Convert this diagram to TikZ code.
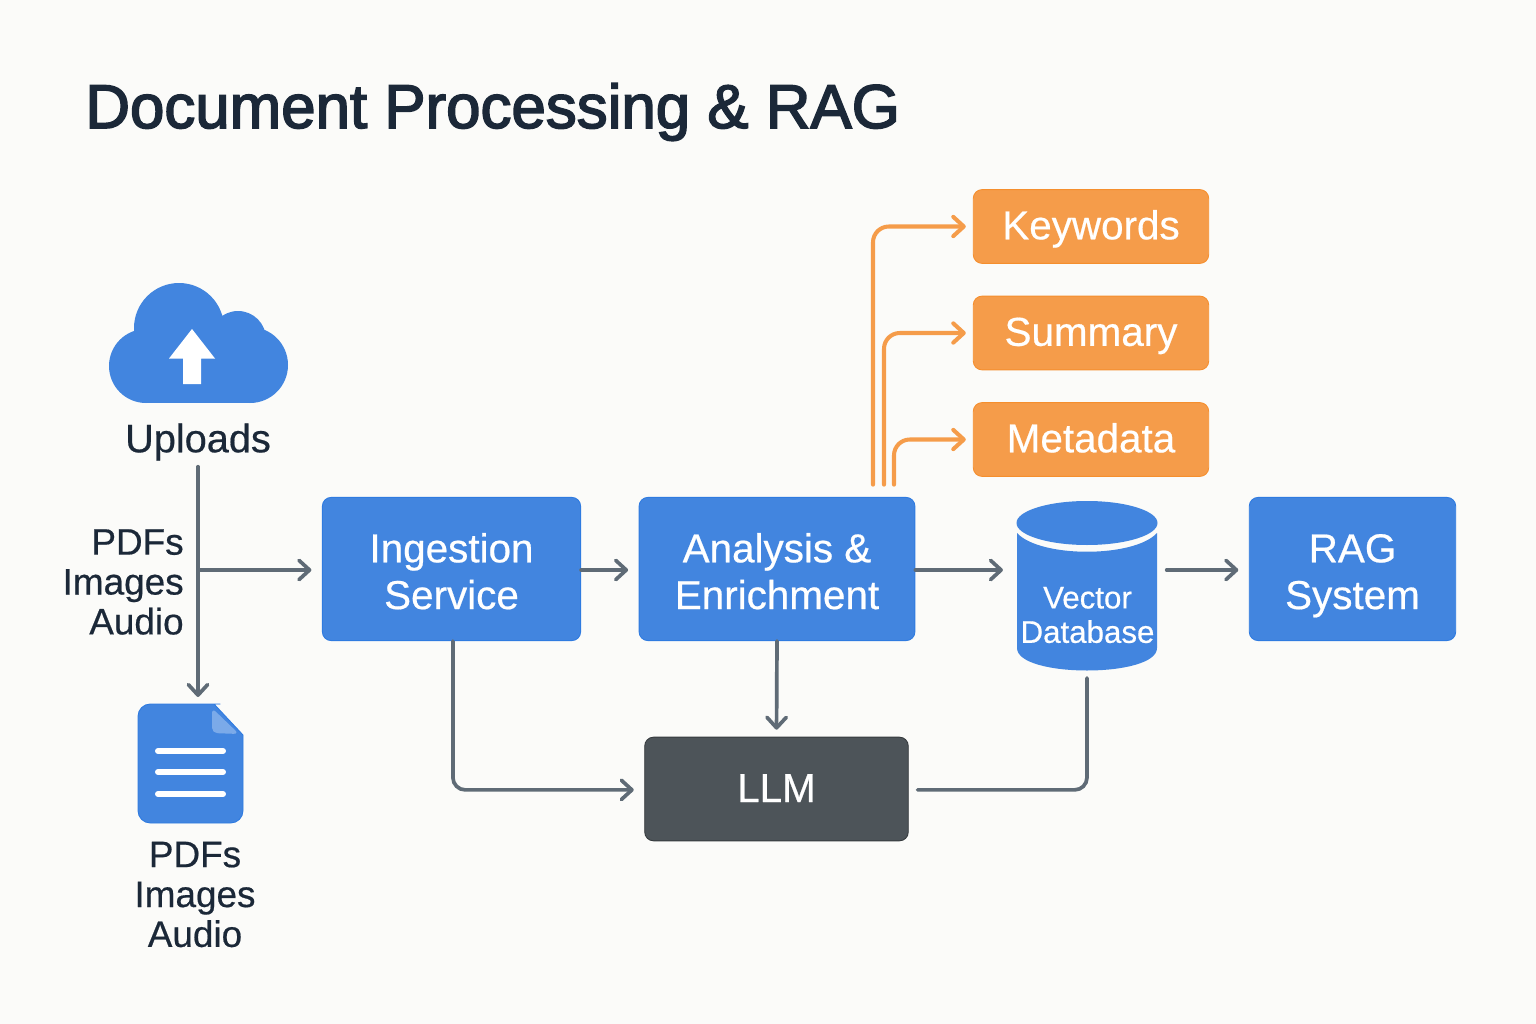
\documentclass[tikz,border=0pt]{standalone}
\usepackage{fontspec}
\setmainfont[FakeBold=0.5]{Liberation Sans}
\newfontfamily\headfont[FakeBold=2.6]{Liberation Sans}
\usetikzlibrary{arrows.meta}
\definecolor{paper}{HTML}{FBFBF9}
\definecolor{inkdark}{HTML}{1B2838}
\definecolor{boxblue}{HTML}{4285DF}
\definecolor{edgeblue}{HTML}{2F7BE0}
\definecolor{boxorange}{HTML}{F59C4A}
\definecolor{edgeorange}{HTML}{F58F2E}
\definecolor{boxslate}{HTML}{4D5459}
\definecolor{linegray}{HTML}{5F6B76}
\tikzset{
  tip/.style={-{Straight Barb[length=6pt,width=11pt,round]}},
  flow/.style={tip, draw=linegray, line width=2.1pt, rounded corners=7pt, line cap=round},
  oflow/.style={tip, draw=boxorange, line width=2.3pt, rounded corners=9pt, line cap=round},
  card/.style={rounded corners=5pt, text=white, align=center, font=\fontsize{23}{26.6}\selectfont},
  blue/.style={card, fill=boxblue, draw=edgeblue, line width=.5pt, minimum height=81.5pt, text height=48pt, text depth=2.4pt},
  orange/.style={card, fill=boxorange, draw=edgeorange, line width=.5pt, minimum width=134pt, minimum height=42pt, text height=18pt, text depth=3.4pt},
  slate/.style={card, fill=boxslate, draw=boxslate!70!black, line width=.5pt, text height=17pt, text depth=2.2pt},
  plain/.style={text=inkdark, font=\fontsize{21}{22.7}\selectfont}
}
\begin{document}
\begin{tikzpicture}[x=0.02cm, y=-0.02cm]
  \fill[paper] (0,0) rectangle (1536,1024);
  \useasboundingbox (0,0) rectangle (1536,1024);
  \node[anchor=west, inner sep=0pt, text=inkdark, font=\fontsize{35.2}{38}\headfont] (title) at (85,112) {Document Processing \& RAG};

  % cloud
  \fill[boxblue] (179,328) circle (45) (238,339) circle (28) (146,366) circle (37) (250,365) circle (38);
  \fill[boxblue] (146,340) rectangle (250,403);
  \fill[white] (192,329) -- (215,358.5) -- (201,358.5) -- (201,384) -- (183,384) -- (183,358.5) -- (169,358.5) -- cycle;
  \node[plain, font=\fontsize{22.6}{24}\selectfont] (uploads) at (198,442) {Uploads};

  % document
  \coordinate (doctop) at (198,704);
  \filldraw[fill=boxblue, draw=edgeblue, line width=.5pt, rounded corners=7pt] (138,704) -- (208,704) [sharp corners] -- (214,704) -- (243,735) [rounded corners=7pt] -- (243,823) -- (138,823) -- cycle;
  \fill[boxblue!70!white, rounded corners=3pt] (212,708) -- (212,733) -- (239,734) -- cycle;
  \foreach \y in {751,772,794}
    \draw[white, line width=3.4pt, line cap=round] (158,\y) -- (223,\y);

  % boxes
  \node[blue, minimum width=147pt] (ingest) at (451.5,569) {Ingestion\\Service};
  \node[blue, minimum width=157pt] (analysis) at (777,569) {Analysis \&\\Enrichment};
  \node[blue, minimum width=117.5pt] (rag) at (1352.5,569) {RAG\\System};
  \node[slate, minimum width=150pt, minimum height=59pt] (llm) at (776.5,789) {LLM};
  \node[orange] (keywords) at (1091,226.5) {Keywords};
  \node[orange] (summary) at (1091,333) {Summary};
  \node[orange] (metadata) at (1091,439.5) {Metadata};

  % vector database
  \fill[boxblue] (1017,533) .. controls (1040,558) and (1134,558) .. (1157,533) -- (1157,648) .. controls (1157,678) and (1017,678) .. (1017,648) -- cycle;
  \fill[boxblue] (1087,523) ellipse (70.5 and 22);
  \node[text=white, align=center, inner sep=0pt, font=\fontsize{17.8}{19.6}\selectfont] (vector) at (1087.5,615) {Vector\\Database};
  \coordinate (dbw) at (1017,570);
  \coordinate (dbe) at (1157,570);
  \coordinate (dbs) at (1087,670);

  % labels
  \node[plain, align=right, anchor=east, inner sep=0pt] (inputs) at (184,582) {PDFs\\Images\\Audio};
  \node[plain, align=center] (files) at (195,894.5) {PDFs\\Images\\Audio};

  % connectors
  \coordinate (branch) at (198,570);
  \draw[flow, shorten >=4pt] (uploads.south) -- (doctop);
  \draw[flow, shorten >=6pt] (branch) -- (ingest.west |- branch);
  \draw[flow, shorten >=6pt] (ingest.east |- branch) -- (analysis.west |- branch);
  \draw[flow, shorten >=8pt] (analysis.east |- branch) -- (dbw);
  \draw[flow, shorten <=5.5pt, shorten >=6pt] (dbe) -- (rag.west |- branch);
  \draw[flow, shorten >=6pt] ([xshift=.8pt]ingest.south) |- ([yshift=-.5pt]llm.west);
  \draw[flow, shorten >=4pt] (analysis.south) -- (llm.north);
  \draw[flow, -, shorten <=5pt, shorten >=4.5pt] ([yshift=-.5pt]llm.east) -| (dbs);
  \draw[oflow, shorten <=7pt, shorten >=4pt] (analysis.north -| 873,0) |- (keywords.west);
  \draw[oflow, shorten <=7pt, shorten >=4pt] (analysis.north -| 884,0) |- (summary.west);
  \draw[oflow, shorten <=7pt, shorten >=4pt] (analysis.north -| 894,0) |- (metadata.west);
\end{tikzpicture}
\end{document}
